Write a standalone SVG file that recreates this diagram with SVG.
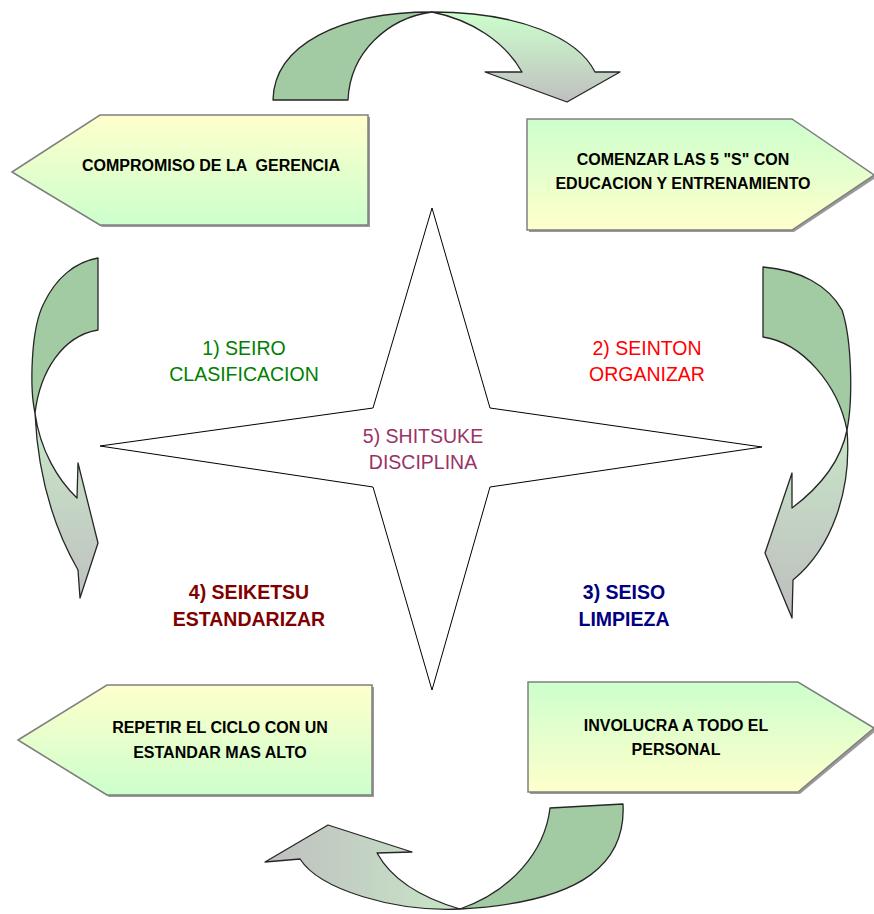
<svg xmlns="http://www.w3.org/2000/svg" width="874" height="914" viewBox="0 0 874 914">
  <defs>
    <linearGradient id="gYG" x1="0" y1="0" x2="0" y2="1">
      <stop offset="0" stop-color="#ffffcc"/>
      <stop offset="1" stop-color="#ccffcc"/>
    </linearGradient>
    <linearGradient id="gGY" x1="0" y1="0" x2="0" y2="1">
      <stop offset="0" stop-color="#ccffcc"/>
      <stop offset="1" stop-color="#ffffcc"/>
    </linearGradient>
    <linearGradient id="gTop" gradientUnits="userSpaceOnUse" x1="0" y1="12" x2="0" y2="102">
      <stop offset="0" stop-color="#ccffcc"/>
      <stop offset="1" stop-color="#bfbfbf"/>
    </linearGradient>
    <linearGradient id="gSide" gradientUnits="userSpaceOnUse" x1="0" y1="415" x2="0" y2="610">
      <stop offset="0" stop-color="#c8e8c8"/>
      <stop offset="1" stop-color="#bfbfbf"/>
    </linearGradient>
    <linearGradient id="gBot" gradientUnits="userSpaceOnUse" x1="265" y1="0" x2="470" y2="0">
      <stop offset="0" stop-color="#bfbfbf"/>
      <stop offset="1" stop-color="#c8e8c8"/>
    </linearGradient>
  </defs>
  <style>
    .box { stroke: #808080; stroke-width: 1.5; }
    .shadow { fill: #9a9a9a; }
    .btxt { font-family: "Liberation Sans", Arial, sans-serif; font-weight: bold; font-size: 16px; fill: #000; text-anchor: middle; white-space: pre; }
    .arrDark { fill: #a3cba3; stroke: #262626; stroke-width: 1.3; stroke-linejoin: round; }
    .arr { stroke: #262626; stroke-width: 1.3; stroke-linejoin: round; }
    .lbl { font-family: "Liberation Sans", Arial, sans-serif; font-size: 19.5px; text-anchor: middle; }
    .star { fill: #ffffff; stroke: #000; stroke-width: 1; }
  </style>

  <!-- central star -->
  <g id="star">
    <polygon class="star" points="432,208 490,408 762,447 490,487 432,690 373,487 100,446 373,408"/>
  </g>

  <!-- connectors: curved arrows -->
  <g id="connectors">
    <g id="arrow-top">
      <path class="arrDark" d="M273,100 C274,45 340,12 432,12 C388,18 350,52 348,100 Z"/>
      <path class="arr" fill="url(#gTop)" d="M432,12 C520,12 578,38 595,72 L620,72 L567,102 L485,72 L522,72 C505,42 472,20 432,12 Z"/>
    </g>
    <g id="arrow-right">
      <path class="arrDark" d="M763,267 L763,337 C803,343 838,385 847,430 C853,400 852,340 842,310 C828,285 800,270 763,267 Z"/>
      <path class="arr" fill="url(#gSide)" d="M847,430 C852,490 832,548 793,580 L792,618 L765,553 L792,473 L792,508 C816,490 840,465 847,430 Z"/>
    </g>
    <g id="arrow-bottom">
      <path class="arrDark" d="M550,808 L623,804 C626,860 588,902 460,909 C510,892 545,852 550,808 Z"/>
      <path class="arr" fill="url(#gBot)" d="M460,909 C395,912 320,890 300,859 L265,862 L328,825 L412,852 L377,853 C392,880 422,898 460,909 Z"/>
    </g>
    <g id="arrow-left">
      <path class="arrDark" d="M98,258 L98,330 C62,336 40,372 35,413 C30,390 30,330 44,303 C56,278 75,262 98,258 Z"/>
      <path class="arr" fill="url(#gSide)" d="M35,413 C38,480 55,530 78,570 L80,598 L98,543 L78,463 L77,498 C58,480 40,450 35,413 Z"/>
    </g>
  </g>

  <!-- nodes -->
  <g id="node-compromiso">
    <polygon class="shadow" points="14,174 102,117 370,117 370,227 102,227"/>
    <polygon class="box" fill="url(#gYG)" points="12,172 100,115 368,115 368,225 100,225"/>
    <text class="btxt" x="211" y="171">COMPROMISO DE LA  GERENCIA</text>
  </g>
  <g id="node-comenzar">
    <polygon class="shadow" points="529,121 794,121 877,177 794,232 529,232"/>
    <polygon class="box" fill="url(#gGY)" points="527,119 792,119 874,175 792,230 527,230"/>
    <text class="btxt" x="683" y="165">COMENZAR LAS 5 "S" CON</text>
    <text class="btxt" x="683" y="189">EDUCACION Y ENTRENAMIENTO</text>
  </g>
  <g id="node-involucra">
    <polygon class="shadow" points="530,684 800,684 877,730 800,794 530,794"/>
    <polygon class="box" fill="url(#gGY)" points="528,682 798,682 874,728 798,792 528,792"/>
    <text class="btxt" x="676" y="731">INVOLUCRA A TODO EL</text>
    <text class="btxt" x="676" y="755">PERSONAL</text>
  </g>
  <g id="node-repetir">
    <polygon class="shadow" points="20,742 109,687 374,687 374,797 109,797"/>
    <polygon class="box" fill="url(#gYG)" points="18,740 107,685 372,685 372,795 107,795"/>
    <text class="btxt" x="220" y="733">REPETIR EL CICLO CON UN</text>
    <text class="btxt" x="220" y="758">ESTANDAR MAS ALTO</text>
  </g>

  <!-- S labels -->
  <g id="label-seiro">
    <text class="lbl" fill="#008000" x="244" y="355">1) SEIRO</text>
    <text class="lbl" fill="#008000" x="244" y="381">CLASIFICACION</text>
  </g>
  <g id="label-seiton">
    <text class="lbl" fill="#ff0000" x="647" y="355">2) SEINTON</text>
    <text class="lbl" fill="#ff0000" x="647" y="381">ORGANIZAR</text>
  </g>
  <g id="label-shitsuke">
    <text class="lbl" fill="#993366" x="423" y="443">5) SHITSUKE</text>
    <text class="lbl" fill="#993366" x="423" y="469">DISCIPLINA</text>
  </g>
  <g id="label-seiketsu">
    <text class="lbl" fill="#800000" font-weight="bold" x="249" y="599">4) SEIKETSU</text>
    <text class="lbl" fill="#800000" font-weight="bold" x="249" y="626">ESTANDARIZAR</text>
  </g>
  <g id="label-seiso">
    <text class="lbl" fill="#000080" font-weight="bold" x="624" y="599">3) SEISO</text>
    <text class="lbl" fill="#000080" font-weight="bold" x="624" y="626">LIMPIEZA</text>
  </g>
</svg>
